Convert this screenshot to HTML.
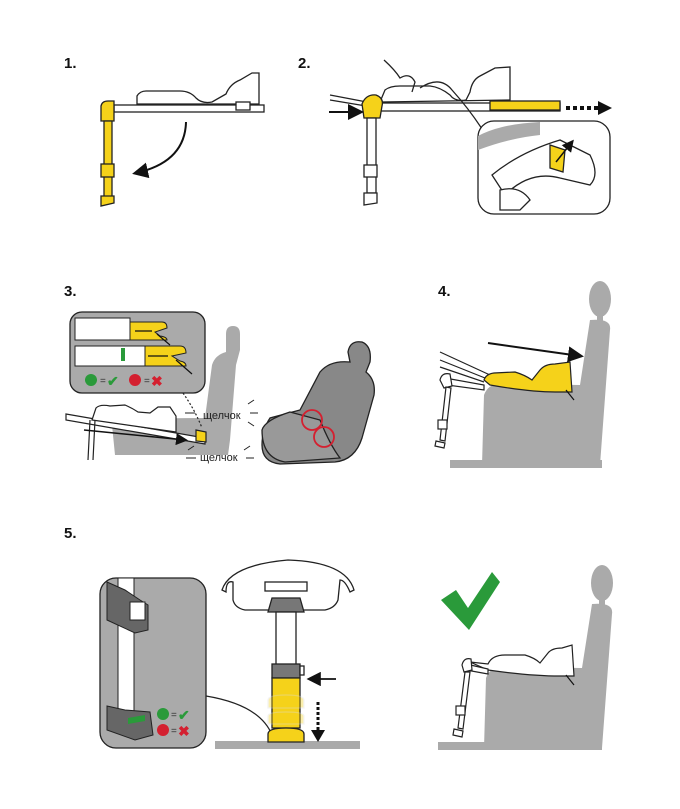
<!DOCTYPE html>
<html><head><meta charset="utf-8"><style>
html,body{margin:0;padding:0;background:#fff;}
svg{display:block;}
text{font-family:"Liberation Sans",sans-serif;}
</style></head><body>
<svg width="680" height="809" viewBox="0 0 680 809" xmlns="http://www.w3.org/2000/svg">
<defs>
<marker id="ah" markerWidth="8" markerHeight="8" refX="6" refY="4" orient="auto"><path d="M0,0 L8,4 L0,8 Z" fill="#111"/></marker>
</defs>
<g font-weight="bold" font-size="15" fill="#111">
<text x="64" y="68">1.</text><text x="298" y="68">2.</text>
<text x="64" y="296">3.</text><text x="438" y="296">4.</text>
<text x="64" y="538">5.</text>
</g>

<!-- PANEL 1 -->
<g stroke="#222" stroke-width="1.3" fill="#fff">
<rect x="114" y="105" width="150" height="7"/>
<path d="M137,104 L137,96 Q140,91 146,91 L180,91 Q190,91 196,98 Q202,104 212,102 L226,94 Q230,84 240,80 L252,73 L259,73 L259,104 Z"/>
<rect x="236" y="102" width="14" height="8"/>
<path d="M101,106 Q102,101 108,101 L114,101 L114,121 L101,121 Z" fill="#f5d21a"/>
<rect x="104" y="121" width="8" height="76" fill="#f5d21a"/>
<rect x="101" y="164" width="13" height="13" fill="#f5d21a"/>
<path d="M101,196 L114,196 L114,203 L101,206 Z" fill="#f5d21a"/>
<path d="M186,122 Q185,162 136,173" fill="none" stroke="#111" stroke-width="2" marker-end="url(#ah)"/>
</g>

<!-- PANEL 2 -->
<g stroke="#222" stroke-width="1.3" fill="#fff">
<rect x="370" y="103" width="190" height="8"/>
<path d="M380,102 L385,90 Q390,86 400,86 L430,86 Q440,87 450,95 Q455,102 466,100 L470,92 Q472,80 480,76 L495,68 L510,67 L510,100 Z"/>
<rect x="490" y="101" width="70" height="9" fill="#f5d21a"/>
<path d="M330,95 L372,103 M330,100 L372,107" fill="none"/>
<path d="M362,104 Q366,94 376,95 Q384,98 382,106 L380,118 L364,118 Z" fill="#f5d21a"/>
<rect x="367" y="118" width="9" height="75" />
<rect x="364" y="165" width="13" height="12"/>
<path d="M364,193 L377,193 L377,203 L364,205 Z"/>
<path d="M384,60 Q395,70 400,78 Q410,72 415,82 L412,92" fill="none"/>
<path d="M420,88 Q440,75 452,90 Q470,110 484,132" fill="none"/>
<rect x="478" y="121" width="132" height="93" rx="16"/>
<path d="M478,136 Q500,124 540,122 L540,135 Q510,138 478,150 Z" fill="#aaa" stroke="none"/>
<path d="M492,175 Q520,152 560,140 L590,155 Q600,175 590,185 L560,178 Q530,170 505,195 Z" fill="#fff"/>
<path d="M550,145 L565,150 L563,172 L550,168 Z" fill="#f5d21a"/>
<path d="M500,190 Q520,185 530,200 L520,210 L500,210 Z" fill="#fff"/>
</g>
<path d="M329,112 L360,112" stroke="#111" stroke-width="2" marker-end="url(#ah)"/>
<path d="M566,108 L598,108" stroke="#111" stroke-width="4" stroke-dasharray="4,3"/>
<path d="M598,101 L612,108 L598,115 Z" fill="#111"/>
<path d="M556,162 L572,142" stroke="#111" stroke-width="1.5" marker-end="url(#ah)"/>

<!-- PANEL 3 -->
<path d="M226,334 Q226,326 233,326 Q240,326 240,334 L240,350 L236,365 L230,440 L228,455 L115,455 L112,425 Q118,418 205,418 L212,365 Q215,355 226,352 Z" fill="#aaa"/>
<rect x="70" y="312" width="135" height="81" rx="12" fill="#aaa" stroke="#222" stroke-width="1.3"/>
<g stroke="#222" stroke-width="1" fill="#fff">
<rect x="75" y="318" width="55" height="22"/>
<rect x="75" y="346" width="70" height="20"/>
<path d="M130,322 L162,322 Q167,322 167,328 L155,332 L160,336 Q167,337 167,340 L130,340 Z" fill="#f5d21a"/>
<path d="M145,346 L180,346 Q186,346 186,353 L172,356 L180,361 Q186,362 186,366 L145,366 Z" fill="#f5d21a"/>
<rect x="121" y="348" width="4" height="13" fill="#2a9a3a" stroke="none"/>
</g>
<path d="M135,331 L152,331 M148,356 L168,356 M157,334 L170,345 M176,360 L192,374" stroke="#111" stroke-width="1.2"/>
<circle cx="91" cy="380" r="6" fill="#2a9a3a"/><text x="100" y="384" font-size="10" fill="#333">=</text><text x="107" y="386" font-size="14" fill="#2a9a3a" font-weight="bold">✔</text>
<circle cx="135" cy="380" r="6" fill="#d42030"/><text x="144" y="384" font-size="10" fill="#333">=</text><text x="151" y="386" font-size="14" fill="#d42030" font-weight="bold">✖</text>
<g stroke="#222" stroke-width="1.2" fill="#fff">
<path d="M66,414 L205,438 L205,444 L66,420 Z"/>
<path d="M92,420 L96,408 Q100,404 110,406 L125,405 Q132,408 138,412 L150,413 L158,407 L170,407 L176,416 L176,432 Z"/>
<path d="M196,430 L206,432 L206,442 L196,441 Z" fill="#f5d21a"/>
<path d="M90,420 L88,460 M95,420 L93,460" fill="none"/>
<path d="M183,393 Q195,410 202,428" fill="none" stroke-dasharray="2,2"/>
</g>
<path d="M84,430 L185,440" stroke="#111" stroke-width="1.5" marker-end="url(#ah)"/>
<text x="203" y="419" font-size="11" fill="#222">щелчок</text>
<text x="200" y="461" font-size="11" fill="#222">щелчок</text>
<g stroke="#222" stroke-width="1"><path d="M185,413 L195,413 M250,413 L258,413 M186,458 L196,458 M246,458 L254,458 M248,404 L254,400 M248,422 L254,426 M188,450 L194,446 M244,450 L250,446"/></g>
<g stroke="#222" stroke-width="1.3" fill="#888">
<path d="M348,352 Q350,340 362,342 Q372,346 370,362 L366,372 Q376,380 374,395 L362,438 Q355,460 335,462 L280,464 Q262,462 262,445 Q262,430 270,418 L300,410 L320,372 Q330,360 350,362 Z"/>
<path d="M262,430 Q265,420 290,412 L320,420 Q330,445 340,458 L285,462 Q262,458 262,430 Z" fill="#999"/>
</g>
<circle cx="312" cy="420" r="10" fill="none" stroke="#d42030" stroke-width="1.8"/>
<circle cx="324" cy="437" r="10" fill="none" stroke="#d42030" stroke-width="1.8"/>

<!-- PANEL 4 -->
<g fill="#aaa">
<ellipse cx="600" cy="299" rx="11" ry="18"/>
<rect x="597" y="314" width="6" height="8"/>
<path d="M590,320 Q612,318 610,330 L600,465 L482,465 L484,395 Q488,384 500,384 L580,385 Z"/>
</g>
<rect x="450" y="460" width="152" height="8" fill="#aaa"/>
<g stroke="#222" stroke-width="1.2" fill="#fff">
<path d="M440,352 L490,375 M440,360 L485,378 M440,367 L484,382" fill="none"/>
<path d="M445,378 L484,385 L484,390 L447,385 Z"/>
<path d="M440,380 Q442,372 450,374 L452,386 L444,388 Z"/>
<path d="M446,387 L440,440 L445,441 L451,388 Z"/>
<rect x="438" y="420" width="9" height="9"/>
<path d="M436,441 L445,443 L444,448 L435,446 Z"/>
</g>
<path d="M484,380 Q486,374 494,373 L515,372 Q525,375 532,380 L540,370 Q545,364 555,364 L570,362 L572,392 L555,392 Q530,392 490,385 Z" fill="#f5d21a" stroke="#222" stroke-width="1.2"/>
<path d="M488,343 L580,356" stroke="#111" stroke-width="2" marker-end="url(#ah)"/>
<path d="M566,390 L574,400" stroke="#111" stroke-width="1.2"/>

<!-- PANEL 5 -->
<rect x="100" y="578" width="106" height="170" rx="16" fill="#aaa" stroke="#222" stroke-width="1.3"/>
<rect x="118" y="578" width="16" height="135" fill="#fff" stroke="#222" stroke-width="1"/>
<path d="M107,582 L125,590 L140,600 L148,605 L148,630 L135,633 L107,620 Z" fill="#666" stroke="#222"/>
<rect x="130" y="602" width="15" height="18" fill="#fff" stroke="#222"/>
<path d="M107,706 L125,710 L150,712 L153,735 L135,740 L107,730 Z" fill="#666" stroke="#222"/>
<path d="M128,718 L145,715 L145,721 L128,724 Z" fill="#2a9a3a"/>
<circle cx="163" cy="714" r="6" fill="#2a9a3a"/><text x="171" y="718" font-size="10" fill="#333">=</text><text x="178" y="720" font-size="14" fill="#2a9a3a" font-weight="bold">✔</text>
<circle cx="163" cy="730" r="6" fill="#d42030"/><text x="171" y="734" font-size="10" fill="#333">=</text><text x="178" y="736" font-size="14" fill="#d42030" font-weight="bold">✖</text>
<path d="M206,696 Q260,705 272,735" fill="none" stroke="#222" stroke-width="1.2"/>
<rect x="215" y="741" width="145" height="8" fill="#aaa"/>
<g stroke="#222" stroke-width="1.3" fill="#fff">
<path d="M222,590 Q230,565 288,560 Q346,562 354,590 L350,592 Q345,580 340,580 L338,600 Q335,608 325,610 L245,610 Q235,608 233,600 L233,582 Q226,580 226,592 Z"/>
<rect x="265" y="582" width="42" height="9"/>
<path d="M272,598 L300,598 L304,612 L268,612 Z" fill="#777"/>
<rect x="276" y="612" width="20" height="60"/>
<rect x="272" y="664" width="28" height="14" fill="#777"/>
<rect x="300" y="666" width="4" height="9"/>
<path d="M272,678 L300,678 L300,728 L272,728 Z" fill="#f5d21a"/>
<path d="M268,700 Q268,695 286,695 Q304,695 304,700 L304,708 L268,708 Z" fill="#f5d21a" opacity="0.35" stroke="#ddd"/>
<path d="M268,716 Q268,712 286,712 Q304,712 304,716 L304,724 L268,724 Z" fill="#f5d21a" opacity="0.35" stroke="#ddd"/>
<path d="M268,734 Q268,728 286,728 Q304,728 304,734 L304,742 L268,742 Z" fill="#f5d21a"/>
</g>
<path d="M336,679 L310,679" stroke="#111" stroke-width="1.8" marker-end="url(#ah)"/>
<path d="M318,702 L318,730" stroke="#111" stroke-width="3" stroke-dasharray="3,2"/>
<path d="M311,730 L318,742 L325,730 Z" fill="#111"/>

<!-- PANEL 6 -->
<path d="M441,600 L456,590 L468,608 L492,572 L500,582 L469,630 Z" fill="#2a9a3a"/>
<g fill="#aaa">
<ellipse cx="602" cy="583" rx="11" ry="18"/>
<rect x="599" y="598" width="6" height="8"/>
<path d="M592,604 Q614,602 612,614 L602,748 L484,748 L486,678 Q490,667 502,667 L582,668 Z"/>
</g>
<rect x="438" y="742" width="164" height="8" fill="#aaa"/>
<g stroke="#222" stroke-width="1.2" fill="#fff">
<path d="M470,662 L488,664 Q492,655 505,655 L525,655 Q535,658 540,663 L548,653 Q552,648 562,648 L572,645 L574,676 L560,676 Q530,676 488,670 Z"/>
<path d="M466,664 L488,669 L488,674 L466,670 Z"/>
<path d="M462,665 Q464,657 471,659 L472,670 L464,672 Z"/>
<path d="M465,672 L458,728 L463,729 L470,672 Z"/>
<rect x="456" y="706" width="9" height="9"/>
<path d="M454,729 L463,731 L462,737 L453,735 Z"/>
</g>
<path d="M566,675 L574,685" stroke="#111" stroke-width="1.2"/>
</svg>
</body></html>
